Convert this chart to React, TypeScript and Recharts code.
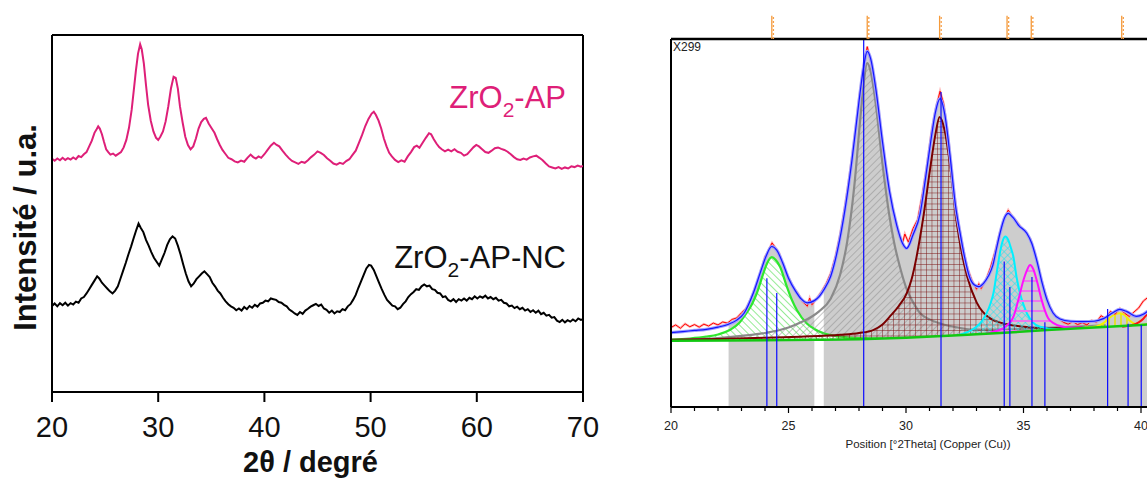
import React from "react";
import { ComposedChart, Line, Area, XAxis, YAxis, ReferenceLine, Label } from "recharts";

const FONT = '"Liberation Sans", Arial, Helvetica, sans-serif';
const PINK = "#de1f78";

// ---- left panel: ZrO2 patterns, [2θ, intensity (a.u.)] ----
const apPattern: [number, number][] = [
  [20, 65.3], [20.25, 64.8], [20.5, 65.4], [20.75, 64.9], [21, 65.6], [21.25, 65.0], [21.5, 65.5], [21.75, 65.1],
  [22, 65.7], [22.25, 65.2], [22.5, 66.1], [22.75, 65.8], [23, 66.6], [23.25, 67.2], [23.5, 68.8], [23.75, 70.4],
  [24, 72.6], [24.2, 73.6], [24.35, 74.4], [24.5, 73.8], [24.7, 72.2], [24.9, 70.0], [25.1, 68.0], [25.3, 67.2],
  [25.5, 66.5], [25.75, 66.8], [26, 66.2], [26.25, 66.7], [26.5, 67.2], [26.75, 68.5], [27, 70.6], [27.25, 74.0],
  [27.5, 79.0], [27.7, 84.5], [27.9, 90.0], [28.1, 94.8], [28.3, 97.4], [28.45, 96.0], [28.65, 92.0], [28.85, 86.0],
  [29.05, 80.5], [29.3, 76.0], [29.55, 73.0], [29.8, 71.2], [30.0, 70.6], [30.2, 71.5], [30.45, 73.0], [30.7, 75.8],
  [30.95, 80.0], [31.2, 85.0], [31.45, 88.3], [31.65, 88.0], [31.85, 85.0], [32.05, 80.0], [32.3, 75.5], [32.55, 71.5],
  [32.8, 69.2], [33.05, 68.0], [33.3, 68.8], [33.55, 71.0], [33.8, 73.8], [34.05, 75.6], [34.3, 76.5], [34.5, 76.8],
  [34.75, 75.2], [35.0, 74.0], [35.3, 72.6], [35.55, 70.8], [35.8, 69.2], [36.05, 67.8], [36.3, 66.8], [36.6, 65.6],
  [36.9, 65.2], [37.2, 64.6], [37.5, 64.3], [37.8, 64.8], [38.1, 64.5], [38.4, 65.6], [38.7, 66.5], [38.95, 65.8],
  [39.2, 65.4], [39.45, 66.0], [39.7, 65.6], [40.0, 66.6], [40.3, 67.8], [40.6, 69.0], [40.9, 69.8], [41.15, 69.2],
  [41.4, 68.8], [41.7, 67.6], [42.0, 66.5], [42.3, 65.5], [42.6, 64.7], [42.9, 64.3], [43.2, 63.9], [43.5, 64.5],
  [43.8, 64.2], [44.1, 64.9], [44.4, 65.8], [44.7, 66.5], [45.0, 67.4], [45.3, 67.0], [45.6, 66.4], [45.9, 65.5],
  [46.2, 64.8], [46.5, 64.0], [46.8, 63.7], [47.1, 64.2], [47.4, 63.9], [47.7, 64.7], [48.0, 65.2], [48.3, 66.4],
  [48.6, 67.6], [48.9, 69.8], [49.2, 72.0], [49.5, 74.5], [49.8, 76.5], [50.1, 78.0], [50.3, 78.5], [50.5, 77.6],
  [50.75, 76.0], [51.0, 73.8], [51.25, 71.0], [51.5, 68.8], [51.75, 67.0], [52.0, 66.0], [52.3, 65.0], [52.6, 64.4],
  [52.9, 64.9], [53.2, 64.5], [53.5, 66.0], [53.8, 67.2], [54.1, 68.6], [54.35, 69.0], [54.6, 68.4], [54.9, 69.8],
  [55.2, 71.2], [55.5, 72.5], [55.7, 72.2], [55.95, 70.8], [56.2, 69.6], [56.45, 68.6], [56.7, 68.0], [57.0, 67.4],
  [57.3, 67.9], [57.6, 67.4], [57.9, 68.0], [58.2, 67.3], [58.5, 67.0], [58.8, 66.2], [59.1, 66.6], [59.4, 67.6],
  [59.7, 68.6], [59.95, 69.2], [60.2, 68.8], [60.5, 68.0], [60.8, 67.2], [61.1, 67.0], [61.4, 67.6], [61.7, 68.3],
  [62.0, 68.5], [62.3, 68.1], [62.6, 67.8], [62.9, 67.3], [63.2, 66.6], [63.5, 65.8], [63.8, 65.2], [64.1, 65.0],
  [64.4, 65.4], [64.7, 65.1], [65.0, 65.7], [65.3, 66.0], [65.6, 66.2], [65.9, 65.6], [66.2, 64.9], [66.5, 64.0],
  [66.8, 63.2], [67.1, 62.9], [67.4, 62.6], [67.7, 63.0], [68.0, 62.5], [68.3, 62.9], [68.6, 62.6], [68.9, 63.2],
  [69.2, 63.0], [69.5, 63.4], [69.8, 63.1], [70, 63.3],
];
const ncPattern: [number, number][] = [
  [20, 24.1], [20.25, 24.8], [20.5, 24.0], [20.75, 24.9], [21, 24.3], [21.25, 25.0], [21.5, 24.2], [21.75, 24.9],
  [22, 24.5], [22.25, 25.3], [22.5, 25.0], [22.75, 26.2], [23, 26.6], [23.25, 27.6], [23.5, 28.8], [23.75, 30.0],
  [24.0, 31.2], [24.25, 32.4], [24.45, 31.8], [24.7, 30.6], [24.95, 29.8], [25.2, 29.0], [25.45, 28.2], [25.7, 27.6],
  [25.95, 28.4], [26.2, 29.6], [26.45, 31.8], [26.7, 34.0], [26.95, 36.2], [27.2, 38.6], [27.45, 40.8], [27.7, 43.2],
  [27.95, 45.5], [28.15, 47.2], [28.35, 46.0], [28.6, 44.8], [28.85, 42.6], [29.1, 41.0], [29.35, 39.2], [29.6, 37.6],
  [29.85, 36.5], [30.1, 35.4], [30.35, 37.2], [30.6, 39.0], [30.85, 41.2], [31.1, 42.8], [31.35, 43.6], [31.6, 43.0],
  [31.85, 41.0], [32.1, 38.6], [32.35, 35.8], [32.6, 33.2], [32.85, 31.0], [33.1, 29.6], [33.35, 30.4], [33.6, 31.6],
  [33.85, 32.4], [34.1, 33.2], [34.35, 33.8], [34.6, 33.0], [34.85, 32.2], [35.1, 30.6], [35.35, 29.6], [35.6, 28.4],
  [35.85, 27.6], [36.1, 26.4], [36.35, 25.4], [36.6, 24.6], [36.85, 24.0], [37.1, 23.6], [37.35, 22.9], [37.6, 23.4],
  [37.85, 22.8], [38.1, 23.8], [38.35, 23.2], [38.6, 24.1], [38.85, 23.6], [39.1, 24.4], [39.35, 23.9], [39.6, 24.8],
  [39.85, 25.0], [40.1, 25.6], [40.35, 25.4], [40.6, 26.2], [40.85, 26.0], [41.1, 25.8], [41.35, 25.2], [41.6, 25.0],
  [41.85, 24.4], [42.1, 24.0], [42.35, 23.1], [42.6, 22.6], [42.85, 22.0], [43.1, 21.6], [43.35, 22.4], [43.6, 21.9],
  [43.85, 22.8], [44.1, 23.3], [44.35, 23.9], [44.6, 24.3], [44.85, 24.7], [45.1, 24.1], [45.35, 24.5], [45.6, 23.4],
  [45.85, 23.0], [46.1, 22.2], [46.35, 22.8], [46.6, 22.0], [46.85, 22.6], [47.1, 22.4], [47.35, 23.2], [47.6, 22.9],
  [47.85, 24.0], [48.1, 24.6], [48.35, 25.8], [48.6, 27.2], [48.85, 29.2], [49.1, 31.0], [49.35, 32.8], [49.6, 34.6],
  [49.85, 35.6], [50.05, 35.4], [50.3, 34.2], [50.55, 32.4], [50.8, 30.6], [51.05, 28.8], [51.3, 27.2], [51.55, 25.8],
  [51.8, 25.0], [52.05, 24.2], [52.3, 24.0], [52.55, 23.2], [52.8, 23.6], [53.05, 24.6], [53.3, 25.4], [53.55, 26.6],
  [53.8, 27.4], [54.05, 28.0], [54.3, 28.8], [54.55, 28.6], [54.8, 29.6], [55.05, 30.1], [55.3, 29.6], [55.55, 29.8],
  [55.8, 28.8], [56.05, 28.6], [56.3, 27.8], [56.55, 27.6], [56.8, 26.6], [57.05, 26.8], [57.3, 25.8], [57.55, 25.4],
  [57.8, 26.0], [58.05, 25.2], [58.3, 26.0], [58.55, 25.6], [58.8, 26.2], [59.05, 25.6], [59.3, 26.4], [59.55, 26.0],
  [59.8, 26.8], [60.05, 26.2], [60.3, 26.8], [60.55, 26.4], [60.8, 27.0], [61.05, 26.2], [61.3, 26.6], [61.55, 26.0],
  [61.8, 26.4], [62.05, 25.6], [62.3, 25.8], [62.55, 25.0], [62.8, 24.8], [63.05, 24.0], [63.3, 24.2], [63.55, 23.5],
  [63.8, 23.9], [64.05, 23.2], [64.3, 23.6], [64.55, 22.8], [64.8, 23.2], [65.05, 22.4], [65.3, 22.9], [65.55, 22.2],
  [65.8, 22.8], [66.05, 21.8], [66.3, 22.2], [66.55, 21.4], [66.8, 21.6], [67.05, 20.8], [67.3, 21.0], [67.55, 20.0],
  [67.8, 19.6], [68.05, 20.2], [68.3, 19.5], [68.55, 20.1], [68.8, 19.7], [69.05, 20.3], [69.3, 19.8], [69.55, 20.6],
  [69.8, 20.2], [70, 20.4],
];

// ---- right panel: profile fit, [°2θ, counts (a.u.)] ----
const observed: [number, number][] = [
  [20, 21.6], [20.2, 22.3], [20.4, 21.4], [20.6, 22.6], [20.8, 21.8], [21, 22.4], [21.2, 21.7], [21.4, 22.5],
  [21.6, 22.0], [21.8, 22.8], [22, 22.3], [22.2, 23.1], [22.4, 22.8], [22.6, 23.8], [22.8, 24.2], [23, 25.6],
  [23.2, 26.8], [23.4, 29.4], [23.6, 32.5], [23.8, 36.4], [24.0, 40.8], [24.15, 42.5], [24.3, 44.6], [24.45, 43.2],
  [24.6, 41.8], [24.8, 38.0], [25.0, 35.2], [25.2, 32.6], [25.4, 30.9], [25.6, 28.6], [25.8, 27.4], [25.9, 29.6],
  [26.0, 27.8], [26.2, 29.5], [26.4, 31.3], [26.6, 33.5], [26.8, 36.4], [27.0, 41.0], [27.2, 47.0], [27.4, 54.5],
  [27.6, 63.0], [27.8, 72.5], [28.0, 83.5], [28.2, 92.5], [28.35, 97.9], [28.5, 94.0], [28.7, 87.5], [28.9, 77.0],
  [29.1, 67.0], [29.3, 58.5], [29.5, 52.0], [29.7, 47.0], [29.85, 44.5], [29.95, 47.0], [30.1, 44.8], [30.3, 48.5],
  [30.5, 51.0], [30.7, 58.0], [30.9, 66.0], [31.1, 75.5], [31.3, 82.0], [31.45, 85.8], [31.6, 82.5], [31.8, 73.0],
  [32.0, 60.5], [32.2, 51.0], [32.4, 44.0], [32.6, 38.0], [32.8, 34.5], [33.0, 32.0], [33.1, 33.5], [33.2, 32.2],
  [33.4, 34.5], [33.6, 38.0], [33.8, 42.5], [34.0, 47.5], [34.2, 51.5], [34.35, 53.5], [34.5, 52.0], [34.7, 50.5],
  [34.9, 48.8], [35.1, 47.5], [35.3, 45.5], [35.5, 41.5], [35.7, 36.0], [35.9, 31.5], [36.1, 27.5], [36.3, 25.2],
  [36.5, 24.0], [36.7, 23.0], [36.9, 22.5], [37.1, 23.2], [37.3, 22.4], [37.5, 22.9], [37.7, 22.3], [37.9, 23.5],
  [38.1, 23.0], [38.3, 24.8], [38.5, 24.0], [38.7, 26.0], [38.9, 25.2], [39.1, 26.8], [39.3, 25.5], [39.5, 24.6],
  [39.7, 25.8], [39.9, 26.9], [40.1, 28.8], [40.3, 29.8], [40.6, 30.5], [41, 31.5], [42, 32.0],
];
const calculated: [number, number][] = [
  [20, 20.2], [20.5, 20.5], [21, 20.8], [21.5, 21.1], [22, 21.7], [22.45, 22.5], [22.8, 23.6], [23.1, 25.4],
  [23.5, 30.9], [23.8, 36.5], [24.05, 41.0], [24.28, 43.6], [24.5, 42.6], [24.75, 39.2], [25.0, 35.0], [25.3, 31.5],
  [25.55, 29.3], [25.8, 28.3], [26.1, 28.9], [26.3, 30.0], [26.5, 31.8], [26.8, 35.6], [27.1, 43.0], [27.4, 53.5],
  [27.7, 67.0], [28.0, 83.0], [28.2, 92.5], [28.35, 96.6], [28.5, 94.5], [28.7, 87.1], [29.0, 72.0], [29.3, 58.5],
  [29.6, 49.5], [29.85, 44.5], [30.03, 43.1], [30.3, 46.8], [30.6, 52.5], [30.85, 63.0], [31.05, 72.0], [31.25, 80.0],
  [31.45, 83.8], [31.65, 79.5], [31.87, 68.5], [32.1, 55.0], [32.3, 47.3], [32.5, 40.5], [32.7, 35.4], [32.9, 33.2],
  [33.1, 32.7], [33.3, 33.6], [33.5, 35.5], [33.7, 38.6], [33.85, 43.0], [34.0, 47.2], [34.2, 51.5], [34.35, 52.6],
  [34.55, 51.5], [34.8, 49.3], [35.14, 47.2], [35.35, 44.5], [35.56, 39.9], [35.8, 33.5], [36.0, 29.1], [36.25, 25.6],
  [36.55, 23.9], [37.0, 23.3], [37.5, 23.2], [38.0, 23.3], [38.4, 24.0], [38.8, 25.6], [39.1, 26.5], [39.4, 25.9],
  [39.8, 24.6], [40.1, 25.2], [40.4, 26.6], [41.0, 28.5], [42.0, 30.0],
];
const background: [number, number][] = [
  [20, 18.0], [22.45, 18.1], [25, 18.2], [26.1, 18.25], [26.3, 18.25], [26.5, 18.3], [28, 18.4], [30, 18.8],
  [32, 19.4], [34, 20.1], [36, 20.9], [38, 21.6], [40, 22.3], [42, 23.0],
];
const fittedRanges: [number, number][] = [[22.45, 26.1], [26.5, 42]];

const peak243: [number, number][] = [
  [20, 18.3], [20.8, 18.6], [21.5, 19.1], [22.0, 19.7], [22.5, 20.9], [22.9, 22.8], [23.2, 25.4], [23.45, 28.0],
  [23.65, 30.9], [23.93, 36.3], [24.1, 39.2], [24.29, 40.7], [24.45, 40.0], [24.64, 38.1], [24.93, 32.7], [25.15, 29.0],
  [25.36, 26.3], [25.78, 22.7], [26.1, 21.2], [26.5, 20.0], [27.2, 19.1], [28.0, 18.7], [29.0, 18.6],
];
const peak283: [number, number][] = [
  [20.5, 18.3], [22.0, 18.7], [23.0, 19.3], [24.0, 20.1], [25.0, 21.6], [25.6, 23.2], [26.0, 24.6], [26.3, 26.0],
  [26.8, 29.5], [27.2, 36.0], [27.5, 45.0], [27.8, 60.0], [28.05, 78.0], [28.2, 88.0], [28.35, 93.4], [28.5, 91.0],
  [28.7, 83.0], [29.0, 66.0], [29.3, 51.7], [29.5, 44.5], [29.74, 38.1], [30.03, 32.0], [30.3, 28.5], [30.6, 25.5],
  [31.0, 23.8], [31.45, 22.7], [32.2, 21.6], [32.9, 21.0], [34.0, 21.0], [35.5, 21.4], [37.0, 21.8], [38.5, 22.2],
];
const peak314: [number, number][] = [
  [20, 18.3], [22, 18.5], [24, 18.8], [25.5, 19.1], [27.2, 19.6], [28.0, 20.1], [28.6, 20.9], [29.0, 22.4],
  [29.3, 24.5], [29.7, 27.5], [30.03, 30.9], [30.25, 35.0], [30.45, 40.8], [30.74, 51.7], [31.02, 64.4], [31.25, 74.0],
  [31.43, 78.8], [31.65, 75.0], [31.87, 66.0], [32.16, 50.0], [32.4, 41.0], [32.6, 35.5], [33.0, 28.5], [33.6, 24.0],
  [34.3, 22.5], [35.0, 21.8], [35.7, 21.5], [36.5, 21.4], [37.5, 21.6],
];
const peak342: [number, number][] = [
  [32.2, 19.5], [32.6, 20.3], [33.0, 21.8], [33.25, 23.5], [33.43, 25.5], [33.6, 28.2], [33.72, 30.9], [33.86, 36.5],
  [34.0, 42.0], [34.1, 44.8], [34.22, 46.3], [34.35, 45.4], [34.45, 43.5], [34.57, 40.8], [34.7, 35.5], [34.85, 30.9],
  [35.0, 27.8], [35.14, 25.5], [35.4, 23.0], [35.7, 21.8], [36.4, 21.2], [37.0, 21.3],
];
const peak353: [number, number][] = [
  [33.4, 20.0], [34.0, 21.0], [34.15, 21.4], [34.35, 22.5], [34.57, 24.5], [34.78, 29.1], [35.0, 34.5], [35.15, 37.2],
  [35.28, 38.6], [35.42, 37.4], [35.56, 34.5], [35.77, 29.1], [36.05, 24.1], [36.3, 22.7], [36.55, 22.0], [37.0, 21.6],
  [37.5, 21.6],
];
const peak391: [number, number][] = [
  [37.6, 21.6], [38.1, 21.9], [38.4, 22.8], [38.7, 24.5], [38.9, 25.2], [39.1, 25.5], [39.3, 25.0], [39.5, 23.6],
  [39.75, 22.6], [39.96, 22.3], [40.3, 22.5],
];
const peak405: [number, number][] = [
  [39.2, 21.8], [39.6, 22.2], [39.9, 23.0], [40.1, 24.0], [40.3, 25.5], [40.6, 27.2], [41.0, 29.0], [41.5, 29.5], [42, 29.0],
];

// reference pattern lines (blue sticks) and peak list markers (orange, above the frame)
const stickPos = [24.08, 24.5, 28.2, 31.49, 34.18, 34.42, 35.36, 35.91, 38.58, 39.45, 40.01];
const stickHeight = [35.0, 31.0, 100, 85.6, 39.5, 32.6, 35.3, 23.0, 26.6, 22.6, 22.3];
const peakMarks = [24.29, 28.35, 31.43, 34.3, 35.33, 39.18];
const posTicks = [20, 21, 22, 23, 24, 25, 26, 27, 28, 29, 30, 31, 32, 33, 34, 35, 36, 37, 38, 39, 40, 41, 42];

const pts = (s: [number, number][]) => s.map(([x, y]) => ({ x, y }));
const onlyFitted = (s: [number, number][]) =>
  s.map(([x, y]) => ({ x, y: fittedRanges.some(([a, b]) => x >= a && x <= b) ? y : null }));

function LeftXTitle({ viewBox }: any) {
  return (
    <text x={viewBox.x + viewBox.width / 2 - 7} y={viewBox.y + 80} textAnchor="middle"
      fontFamily={FONT} fontSize={29} fontWeight="bold" fill="#111">
      2θ / degré
    </text>
  );
}

function LeftYTitle({ viewBox }: any) {
  const cx = viewBox.x + viewBox.width / 2 - 1;
  const cy = viewBox.y + viewBox.height / 2 + 14;
  return (
    <text x={cx} y={cy} transform={`rotate(-90 ${cx} ${cy})`} textAnchor="middle" dominantBaseline="central"
      fontFamily={FONT} fontSize={31} fontWeight="bold" fill="#111">
      Intensité / u.a.
    </text>
  );
}

function PositionTitle({ viewBox }: any) {
  return (
    <text x={viewBox.x + viewBox.width / 2 - 1.5} y={viewBox.y + 41} textAnchor="middle"
      fontFamily={FONT} fontSize={11.5} fill="#222">
      Position [°2Theta] (Copper (Cu))
    </text>
  );
}

function PositionTick({ x, y, payload }: any) {
  const major = payload.value % 5 === 0;
  return (
    <g>
      <line x1={x} x2={x} y1={y} y2={y + (major ? 6 : 4)} stroke="#000" strokeWidth={1.2} />
      {major && (
        <text x={x} y={y + 23} textAnchor="middle" fontFamily={FONT} fontSize={12.5} fill="#222">
          {payload.value}
        </text>
      )}
    </g>
  );
}

function PeakMark(props: any) {
  const { x1, y1, y2 } = props;
  return (
    <g>
      <line x1={x1} x2={x1} y1={y1} y2={y2} stroke="#f59a3a" strokeWidth={1.3} />
      <line x1={x1 + 1.6} x2={x1 + 1.6} y1={y1} y2={y2} stroke="#f5a04a" strokeWidth={1.3} strokeDasharray="2 2" />
    </g>
  );
}

function XrdPanel() {
  return (
    <ComposedChart width={600} height={479} margin={{ top: 35, right: 17, bottom: 0, left: 0 }}>
      <XAxis type="number" dataKey="x" domain={[20, 70]} ticks={[20, 30, 40, 50, 60, 70]} allowDataOverflow height={87}
        axisLine={{ stroke: "#000", strokeWidth: 2 }} tickLine={{ stroke: "#000", strokeWidth: 2 }}
        tickSize={10} tickMargin={14} tick={{ fontSize: 29, fill: "#111", fontFamily: FONT }}>
        <Label content={LeftXTitle} />
      </XAxis>
      <YAxis type="number" domain={[0, 100]} width={52} tick={false} tickLine={false}
        axisLine={{ stroke: "#000", strokeWidth: 2 }}>
        <Label content={LeftYTitle} />
      </YAxis>
      <ReferenceLine y={100} stroke="#000" strokeWidth={2} />
      <ReferenceLine x={70} stroke="#000" strokeWidth={2} />
      <Line data={pts(apPattern)} dataKey="y" type="linear" stroke={PINK} strokeWidth={2} dot={false} isAnimationActive={false} />
      <Line data={pts(ncPattern)} dataKey="y" type="linear" stroke="#000" strokeWidth={2} dot={false} isAnimationActive={false} />
    </ComposedChart>
  );
}

function FitPanel() {
  return (
    <ComposedChart width={560} height={479} margin={{ top: 15, right: 12, bottom: 0, left: 0 }}>
      <defs>
        <pattern id="hatchGreen" width="5" height="5" patternUnits="userSpaceOnUse" patternTransform="rotate(-45)">
          <rect width="5" height="5" fill="#fff" />
          <line x1="0" y1="0" x2="0" y2="5" stroke="#3cdc3c" strokeWidth="1.1" />
        </pattern>
        <pattern id="hatchGray" width="5" height="5" patternUnits="userSpaceOnUse" patternTransform="rotate(45)">
          <line x1="0" y1="0" x2="0" y2="5" stroke="#8e8e8e" strokeWidth="1" />
        </pattern>
        <pattern id="gridMaroon" width="5.5" height="5.5" patternUnits="userSpaceOnUse">
          <line x1="0" y1="0" x2="0" y2="5.5" stroke="#7a1010" strokeWidth="1.1" strokeOpacity="0.85" />
          <line x1="0" y1="0" x2="5.5" y2="0" stroke="#7a1010" strokeWidth="1.1" strokeOpacity="0.85" />
        </pattern>
        <pattern id="crossCyan" width="5" height="5" patternUnits="userSpaceOnUse" patternTransform="rotate(45)">
          <line x1="0" y1="0" x2="0" y2="5" stroke="#18e4f0" strokeWidth="1" />
          <line x1="0" y1="0" x2="5" y2="0" stroke="#18e4f0" strokeWidth="1" />
        </pattern>
        <pattern id="linesMagenta" width="10" height="10" patternUnits="userSpaceOnUse">
          <line x1="0" y1="1" x2="10" y2="1" stroke="#ee77ee" strokeWidth="2" />
        </pattern>
        <pattern id="linesYellow" width="6" height="6" patternUnits="userSpaceOnUse">
          <line x1="1" y1="0" x2="1" y2="6" stroke="#e6e600" strokeWidth="1.5" />
        </pattern>
      </defs>
      <XAxis type="number" dataKey="x" domain={[20, 42]} ticks={posTicks} allowDataOverflow height={72}
        axisLine={{ stroke: "#000", strokeWidth: 2 }} tickLine={false} tickSize={0} tickMargin={0}
        tick={<PositionTick />} interval={0}>
        <Label content={PositionTitle} />
      </XAxis>
      <YAxis type="number" domain={[0, 106.5]} width={31} ticks={[0, 33.33, 66.67, 100]} tick={false}
        tickLine={{ stroke: "#333", strokeWidth: 1.2 }} tickSize={6} axisLine={false} allowDataOverflow />

      <Area data={onlyFitted(calculated)} dataKey="y" type="monotone" fill="#cdcdcd" fillOpacity={1} stroke="none" isAnimationActive={false} />
      <Area data={pts(peak243)} dataKey="y" type="monotone" fill="url(#hatchGreen)" fillOpacity={1} stroke="#2ee82e" strokeWidth={2.2} isAnimationActive={false} />
      <Area data={pts(peak283)} dataKey="y" type="monotone" fill="url(#hatchGray)" fillOpacity={1} stroke="#8a8a8a" strokeWidth={2.2} isAnimationActive={false} />
      <Area data={pts(peak314)} dataKey="y" type="monotone" fill="url(#gridMaroon)" fillOpacity={1} stroke="#7a0000" strokeWidth={2} isAnimationActive={false} />
      <Area data={pts(peak342)} dataKey="y" type="monotone" fill="url(#crossCyan)" fillOpacity={1} stroke="#00f0ff" strokeWidth={2} isAnimationActive={false} />
      <Area data={pts(peak353)} dataKey="y" type="monotone" fill="url(#linesMagenta)" fillOpacity={1} stroke="#ff10ff" strokeWidth={2} isAnimationActive={false} />
      <Area data={pts(peak391)} dataKey="y" type="monotone" fill="url(#linesYellow)" fillOpacity={1} stroke="#f2f200" strokeWidth={2} isAnimationActive={false} />
      <Line data={pts(peak405)} dataKey="y" type="monotone" stroke="#ff1010" strokeWidth={2} dot={false} isAnimationActive={false} />

      <Area data={pts(background)} dataKey="y" type="linear" fill="#fff" fillOpacity={1} stroke="none" isAnimationActive={false} />
      <Area data={onlyFitted(background)} dataKey="y" type="linear" fill="#cdcdcd" fillOpacity={1} stroke="none" isAnimationActive={false} />
      <Line data={pts(background)} dataKey="y" type="linear" stroke="#12c812" strokeWidth={2.5} dot={false} isAnimationActive={false} />

      <Line data={pts(observed)} dataKey="y" type="linear" stroke="#ff8a8a" strokeWidth={2.4} strokeOpacity={0.6} dot={false} isAnimationActive={false} />
      <Line data={pts(observed)} dataKey="y" type="linear" stroke="#ff0000" strokeWidth={1} dot={false} isAnimationActive={false} />
      <Line data={pts(calculated)} dataKey="y" type="monotone" stroke="#a0a0ff" strokeWidth={3.2} dot={false} isAnimationActive={false} />
      <Line data={pts(calculated)} dataKey="y" type="monotone" stroke="#1414ff" strokeWidth={1.2} dot={false} isAnimationActive={false} />

      {stickPos.map((p, i) => (
        <ReferenceLine key={"s" + p} segment={[{ x: p, y: 0 }, { x: p, y: stickHeight[i] }]} stroke="#0a0aff" strokeWidth={1.2} />
      ))}
      <ReferenceLine y={100} stroke="#000" strokeWidth={2.5} />
      <ReferenceLine segment={[{ x: 20, y: 0 }, { x: 20, y: 100 }]} stroke="#000" strokeWidth={2} />
      {peakMarks.map((p) => (
        <ReferenceLine key={"m" + p} segment={[{ x: p, y: 100 }, { x: p, y: 106.3 }]} shape={PeakMark} ifOverflow="visible" />
      ))}
    </ComposedChart>
  );
}

export default function App() {
  return (
    <div style={{ position: "absolute", left: 0, top: 0, width: 1147, height: 479, overflow: "hidden", background: "#fff", fontFamily: FONT }}>
      <div style={{ position: "absolute", left: 0, top: 0 }}>
        <XrdPanel />
      </div>
      <div style={{ position: "absolute", right: 581, top: 82, fontSize: 31, lineHeight: "31px", color: PINK, whiteSpace: "nowrap" }}>
        ZrO<span style={{ fontSize: 21, position: "relative", top: 9 }}>2</span>-AP
      </div>
      <div style={{ position: "absolute", right: 581, top: 242, fontSize: 31, lineHeight: "31px", color: "#111", whiteSpace: "nowrap" }}>
        ZrO<span style={{ fontSize: 21, position: "relative", top: 9 }}>2</span>-AP-NC
      </div>
      <div style={{ position: "absolute", left: 640, top: 0 }}>
        <FitPanel />
      </div>
      <div style={{ position: "absolute", left: 673, top: 41, fontSize: 12, lineHeight: "12px", color: "#222" }}>X299</div>
    </div>
  );
}
